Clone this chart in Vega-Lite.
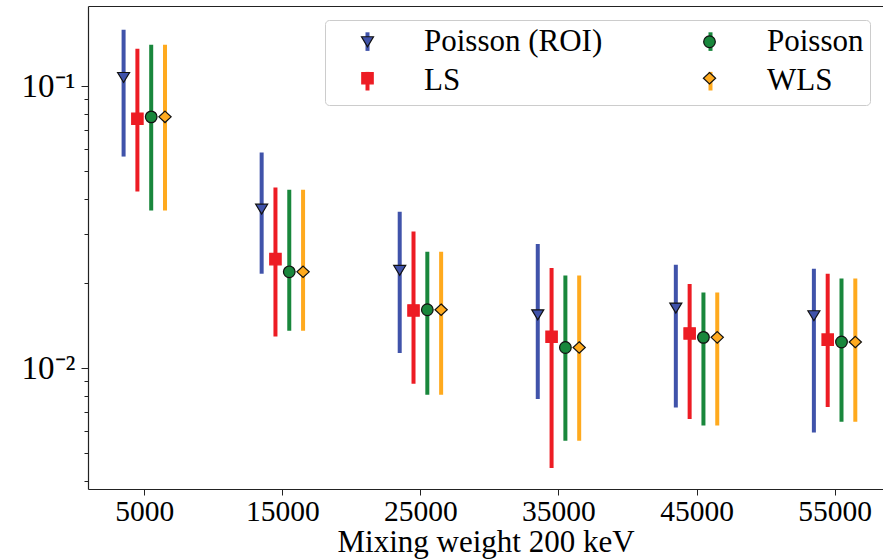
{
  "$schema": "https://vega.github.io/schema/vega-lite/v6.json",
  "width": 795,
  "height": 483,
  "autosize": {"type": "none"},
  "padding": {"left": 88, "top": 6, "right": 0, "bottom": 70},
  "background": "white",
  "config": {"view": {"stroke": null}, "font": "Liberation Serif"},
  "data": {
    "values": [
      {"weight": 5000, "x": 3500, "series": "Poisson (ROI)", "v": 0.1076, "lo": 0.0564, "hi": 0.1589},
      {"weight": 5000, "x": 4500, "series": "LS", "v": 0.0768, "lo": 0.0424, "hi": 0.136},
      {"weight": 5000, "x": 5500, "series": "Poisson", "v": 0.078, "lo": 0.0363, "hi": 0.1406},
      {"weight": 5000, "x": 6500, "series": "WLS", "v": 0.078, "lo": 0.0363, "hi": 0.1406},
      {"weight": 15000, "x": 13500, "series": "Poisson (ROI)", "v": 0.0367, "lo": 0.02166, "hi": 0.0583},
      {"weight": 15000, "x": 14500, "series": "LS", "v": 0.0244, "lo": 0.01298, "hi": 0.0438},
      {"weight": 15000, "x": 15500, "series": "Poisson", "v": 0.022, "lo": 0.0136, "hi": 0.043},
      {"weight": 15000, "x": 16500, "series": "WLS", "v": 0.022, "lo": 0.0136, "hi": 0.043},
      {"weight": 25000, "x": 23500, "series": "Poisson (ROI)", "v": 0.02225, "lo": 0.01133, "hi": 0.0359},
      {"weight": 25000, "x": 24500, "series": "LS", "v": 0.01605, "lo": 0.00882, "hi": 0.0306},
      {"weight": 25000, "x": 25500, "series": "Poisson", "v": 0.01614, "lo": 0.00806, "hi": 0.0259},
      {"weight": 25000, "x": 26500, "series": "WLS", "v": 0.01614, "lo": 0.00806, "hi": 0.0259},
      {"weight": 35000, "x": 33500, "series": "Poisson (ROI)", "v": 0.01549, "lo": 0.00778, "hi": 0.0276},
      {"weight": 35000, "x": 34500, "series": "LS", "v": 0.01295, "lo": 0.00443, "hi": 0.0227},
      {"weight": 35000, "x": 35500, "series": "Poisson", "v": 0.01186, "lo": 0.00554, "hi": 0.02136},
      {"weight": 35000, "x": 36500, "series": "WLS", "v": 0.01186, "lo": 0.00554, "hi": 0.02136},
      {"weight": 45000, "x": 43500, "series": "Poisson (ROI)", "v": 0.01637, "lo": 0.00727, "hi": 0.0233},
      {"weight": 45000, "x": 44500, "series": "LS", "v": 0.0133, "lo": 0.00661, "hi": 0.0199},
      {"weight": 45000, "x": 45500, "series": "Poisson", "v": 0.01288, "lo": 0.00627, "hi": 0.0186},
      {"weight": 45000, "x": 46500, "series": "WLS", "v": 0.01288, "lo": 0.00627, "hi": 0.0186},
      {"weight": 55000, "x": 53500, "series": "Poisson (ROI)", "v": 0.01537, "lo": 0.00592, "hi": 0.02256},
      {"weight": 55000, "x": 54500, "series": "LS", "v": 0.01264, "lo": 0.00729, "hi": 0.02166},
      {"weight": 55000, "x": 55500, "series": "Poisson", "v": 0.0124, "lo": 0.00647, "hi": 0.02084},
      {"weight": 55000, "x": 56500, "series": "WLS", "v": 0.0124, "lo": 0.00647, "hi": 0.02084}
    ]
  },
  "resolve": {"axis": {"x": "independent"}},
  "layer": [
    {
      "mark": {"type": "rule", "strokeWidth": 4, "strokeCap": "butt"},
      "encoding": {
        "x": {
          "field": "x", "type": "quantitative",
          "scale": {"domain": [922, 58506], "nice": false, "zero": false},
          "axis": {
            "values": [5000, 15000, 25000, 35000, 45000, 55000], "format": "d", "grid": false,
            "domainColor": "#222", "domainWidth": 1.2, "tickColor": "#222", "tickSize": 6, "tickWidth": 1,
            "labelFontSize": 29.5, "labelPadding": 2, "labelColor": "black", "labelFont": "Liberation Serif", "labelFlush": false,
            "title": "Mixing weight 200 keV", "titleFontSize": 31, "titleFontWeight": "normal", "titleColor": "black",
            "titleFont": "Liberation Serif", "titleBaseline": "alphabetic", "titleY": 62.5
          }
        },
        "y": {
          "field": "lo", "type": "quantitative",
          "scale": {"type": "log", "domain": [0.003733, 0.1929], "nice": false},
          "axis": {
            "title": null, "grid": false,
            "values": [0.004, 0.005, 0.006, 0.007, 0.008, 0.009, 0.01, 0.02, 0.03, 0.04, 0.05, 0.06, 0.07, 0.08, 0.09, 0.1],
            "domainColor": "#222", "domainWidth": 1.2, "tickColor": "#222", "tickWidth": 1,
            "tickSize": {"condition": {"test": "datum.value == 0.1 || datum.value == 0.01", "value": 7}, "value": 4},
            "labelExpr": "datum.value == 0.1 ? '10⁻¹' : (datum.value == 0.01 ? '10⁻²' : '')",
            "labelFontSize": 33, "labelPadding": 6, "labelColor": "black", "labelFont": "Liberation Serif", "labelOverlap": false
          }
        },
        "y2": {"field": "hi"},
        "color": {
          "field": "series", "type": "nominal",
          "scale": {"domain": ["Poisson (ROI)", "LS", "Poisson", "WLS"], "range": ["#4053AA", "#ED1C24", "#19873C", "#FFAA1E"]},
          "legend": {
            "orient": "none", "legendX": 237, "legendY": 14, "columns": 2,
            "title": "\u00a0", "titleOrient": "left", "titleFontSize": 1, "titlePadding": 21,
            "symbolType": "M0,-1.55L0,1.55", "symbolSize": 144, "symbolStrokeWidth": 4,
            "labelFontSize": 31, "labelFont": "Liberation Serif", "labelColor": "black", "labelOffset": 41, "labelLimit": 400,
            "rowPadding": 4.7, "columnPadding": 92, "padding": 6,
            "fillColor": "rgba(255,255,255,0.8)", "strokeColor": "#cccccc", "cornerRadius": 4
          }
        }
      }
    },
    {
      "mark": {"type": "point", "filled": true, "size": 144, "strokeWidth": 1.2, "opacity": 1},
      "encoding": {
        "x": {
          "field": "x", "type": "quantitative",
          "axis": {"orient": "top", "labels": false, "ticks": false, "title": null, "grid": false, "domainColor": "#222", "domainWidth": 1.2}
        },
        "y": {
          "field": "v", "type": "quantitative",
          "axis": {
            "title": null, "grid": false,
            "values": [0.004, 0.005, 0.006, 0.007, 0.008, 0.009, 0.01, 0.02, 0.03, 0.04, 0.05, 0.06, 0.07, 0.08, 0.09, 0.1],
            "domainColor": "#222", "domainWidth": 1.2, "tickColor": "#222", "tickWidth": 1,
            "tickSize": {"condition": {"test": "datum.value == 0.1 || datum.value == 0.01", "value": 7}, "value": 4},
            "labelExpr": "datum.value == 0.1 ? '10⁻¹' : (datum.value == 0.01 ? '10⁻²' : '')",
            "labelFontSize": 33, "labelPadding": 6, "labelColor": "black", "labelFont": "Liberation Serif", "labelOverlap": false
          }
        },
        "fill": {
          "field": "series", "type": "nominal",
          "scale": {"domain": {"expr": "['Poisson (ROI)', 'LS', 'Poisson', 'WLS']"}, "range": ["#4053AA", "#ED1C24", "#19873C", "#FFAA1E"]},
          "legend": {
            "orient": "none", "legendX": 237, "legendY": 14, "columns": 2,
            "title": "\u00a0", "titleOrient": "left", "titleFontSize": 1, "titlePadding": 21,
            "symbolSize": 144, "symbolStrokeWidth": 1.2,
            "labelExpr": "'\u00a0'",
            "labelFontSize": 31, "labelFont": "Liberation Serif", "labelOffset": 41, "labelLimit": 400,
            "rowPadding": 4.7, "columnPadding": 270, "padding": 6
          }
        },
        "stroke": {
          "field": "series", "type": "nominal",
          "scale": {"domain": {"expr": "['Poisson (ROI)', 'LS', 'Poisson', 'WLS']"}, "range": ["#111111", "#ED1C24", "#111111", "#111111"]},
          "legend": {
            "orient": "none", "legendX": 237, "legendY": 14, "columns": 2,
            "title": "\u00a0", "titleOrient": "left", "titleFontSize": 1, "titlePadding": 21,
            "symbolSize": 144, "symbolStrokeWidth": 1.2,
            "labelExpr": "'\u00a0'",
            "labelFontSize": 31, "labelFont": "Liberation Serif", "labelOffset": 41, "labelLimit": 400,
            "rowPadding": 4.7, "columnPadding": 270, "padding": 6
          }
        },
        "shape": {
          "field": "series", "type": "nominal",
          "scale": {
            "domain": {"expr": "['Poisson (ROI)', 'LS', 'Poisson', 'WLS']"},
            "range": [
              "M-1,-0.83L1,-0.83L0,0.83Z",
              "M-0.95,-0.95L0.95,-0.95L0.95,0.95L-0.95,0.95Z",
              "M0.97,0A0.97,0.97,0,1,1,-0.97,0A0.97,0.97,0,1,1,0.97,0Z",
              "M0,-0.95L1.02,0L0,0.95L-1.02,0Z"
            ]
          },
          "legend": {
            "orient": "none", "legendX": 237, "legendY": 14, "columns": 2,
            "title": "\u00a0", "titleOrient": "left", "titleFontSize": 1, "titlePadding": 21,
            "symbolSize": 144, "symbolStrokeWidth": 1.2,
            "labelExpr": "'\u00a0'",
            "labelFontSize": 31, "labelFont": "Liberation Serif", "labelOffset": 41, "labelLimit": 400,
            "rowPadding": 4.7, "columnPadding": 270, "padding": 6
          }
        }
      }
    }
  ]
}
